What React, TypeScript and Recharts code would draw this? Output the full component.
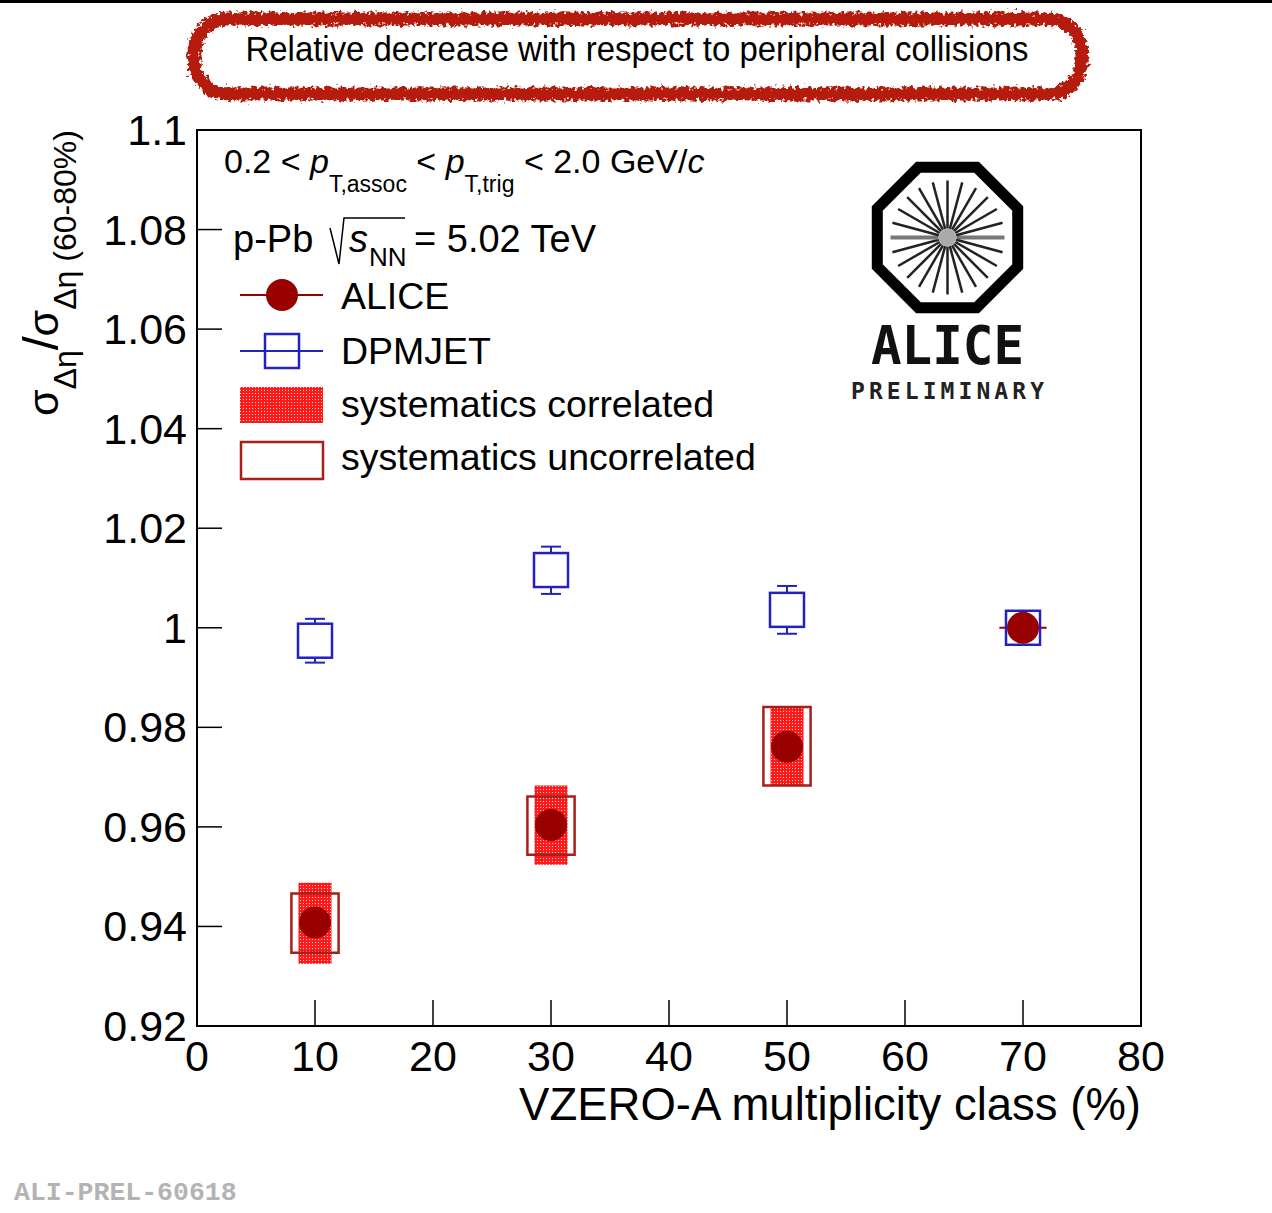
import React from "react";
import {
  ComposedChart,
  Scatter,
  XAxis,
  YAxis,
  ErrorBar,
  ReferenceArea,
} from "recharts";

document.body.style.margin = "0";

const FONT = "'Liberation Sans', Arial, Helvetica, sans-serif";
const DARK_RED = "#990000";
const BLUE = "#2222c4";
const BOX_RED = "#a81f1a";
const HATCH_RED = "#ff1a1a";

// ─── Data (VZERO-A multiplicity class centres, %) ───
const classCentres = [10, 30, 50, 70];
const aliceRatio = [0.9408, 0.9604, 0.9761, 1.0];
// only the reference class carries a drawn class-width bar
const aliceClassHalfWidth = [0, 0, 0, 2];

const sysCentres = [10, 30, 50];
const sysCorrLow = [0.9325, 0.9524, 0.9683];
const sysCorrHigh = [0.9488, 0.9683, 0.9841];
const sysCorrHalfWidth = [1.4, 1.4, 1.4];
const sysUncorrLow = [0.9347, 0.9544, 0.9683];
const sysUncorrHigh = [0.9466, 0.9661, 0.9841];
const sysUncorrHalfWidth = [2, 2, 2];

const dpmjetRatio = [0.9974, 1.0116, 1.0036, 1.0];
const dpmjetErrLow = [0.0044, 0.0048, 0.0048, 0];
const dpmjetErrHigh = [0.0044, 0.0047, 0.0048, 0];

const xTicks = [0, 10, 20, 30, 40, 50, 60, 70, 80];
const yTicks = [0.92, 0.94, 0.96, 0.98, 1.0, 1.02, 1.04, 1.06, 1.08, 1.1];

const aliceData = classCentres.map((x, i) => ({
  x,
  y: aliceRatio[i],
  xErr: aliceClassHalfWidth[i],
}));

const dpmjetData = classCentres.map((x, i) => ({
  x,
  y: dpmjetRatio[i],
  err: [dpmjetErrLow[i], dpmjetErrHigh[i]],
}));

const fmtY = (v: number) => String(parseFloat(v.toFixed(2)));

// ─── Ticks drawn ROOT-style (pointing into the frame) ───
function XTick(props: any) {
  const { x, y, payload } = props;
  return (
    <g>
      <line x1={x} x2={x} y1={y} y2={y - 26} stroke="#000" strokeWidth={1.5} />
      <text x={x} y={y + 45} textAnchor="middle" fontSize={43} fill="#000" fontFamily={FONT}>
        {payload.value}
      </text>
    </g>
  );
}

function YTick(props: any) {
  const { x, y, payload } = props;
  return (
    <g>
      <line x1={x} x2={x + 25} y1={y} y2={y} stroke="#000" strokeWidth={1.5} />
      <text x={x - 10} y={y + 15} textAnchor="end" fontSize={43} fill="#000" fontFamily={FONT}>
        {fmtY(payload.value)}
      </text>
    </g>
  );
}

function CircleMarker(props: any) {
  return <circle cx={props.cx} cy={props.cy} r={16} fill={DARK_RED} />;
}

function SquareMarker(props: any) {
  return (
    <rect
      x={props.cx - 17}
      y={props.cy - 17}
      width={34}
      height={34}
      fill="#fff"
      stroke={BLUE}
      strokeWidth={2.5}
    />
  );
}

function HatchPattern({ id }: { id: string }) {
  return (
    <pattern id={id} width="3" height="3" patternUnits="userSpaceOnUse">
      <rect width="3" height="3" fill={HATCH_RED} />
      <rect x="0" y="0" width="1" height="1" fill="#ffd0d0" />
    </pattern>
  );
}

// ─── ALICE logo ───
function AliceLogo() {
  const cx = 947.5;
  const cy = 237.5;
  const rv = 76;
  const octagon = Array.from({ length: 8 }, (_, k) => {
    const a = ((22.5 + 45 * k) * Math.PI) / 180;
    return `${cx + rv * Math.cos(a)},${cy + rv * Math.sin(a)}`;
  }).join(" ");
  const spokes = Array.from({ length: 24 }, (_, k) => (k * Math.PI) / 12);
  return (
    <g>
      <polygon points={octagon} fill="#fff" stroke="#000" strokeWidth={11} strokeLinejoin="miter" />
      {spokes.map((a, k) => (
        <line
          key={k}
          x1={cx + 9 * Math.cos(a)}
          y1={cy + 9 * Math.sin(a)}
          x2={cx + 57 * Math.cos(a)}
          y2={cy + 57 * Math.sin(a)}
          stroke={k % 12 === 0 ? "#777" : "#222"}
          strokeWidth={k % 12 === 0 ? 4 : 2.5}
        />
      ))}
      <circle cx={cx} cy={cy} r={9} fill="#aaa" />
      <text
        x={cx}
        y={364}
        textAnchor="middle"
        fontSize={54}
        fontWeight="bold"
        fontFamily="'DejaVu Sans Mono', monospace"
        textLength={153}
        lengthAdjust="spacingAndGlyphs"
        fill="#111"
      >
        ALICE
      </text>
      <text
        x={cx}
        y={399}
        textAnchor="middle"
        fontSize={23}
        fontWeight="bold"
        fontFamily="'DejaVu Sans Mono', monospace"
        textLength={193}
        lengthAdjust="spacing"
        fill="#222"
      >
        PRELIMINARY
      </text>
    </g>
  );
}

// ─── Overlay: title box, legend, captions ───
function Overlay() {
  return (
    <svg
      width={1272}
      height={1213}
      style={{ position: "absolute", left: 0, top: 0, pointerEvents: "none" }}
      fontFamily={FONT}
    >
      <defs>
        <filter id="rough" x="-5%" y="-40%" width="110%" height="180%">
          <feTurbulence type="fractalNoise" baseFrequency="0.28" numOctaves="2" seed="4" result="n" />
          <feDisplacementMap in="SourceGraphic" in2="n" scale="11" xChannelSelector="R" yChannelSelector="G" />
        </filter>
        <HatchPattern id="legendHatch" />
      </defs>

      <rect x={0} y={0} width={1272} height={3} fill="#000" />

      {/* title box */}
      <rect x={194} y={19} width={888} height={75} rx={34} fill="none" stroke="#b51a0a" strokeWidth={13} filter="url(#rough)" />
      <text x={637} y={61} textAnchor="middle" fontSize={35} textLength={783} lengthAdjust="spacingAndGlyphs" fill="#000">
        Relative decrease with respect to peripheral collisions
      </text>

      {/* kinematic range */}
      <text x={224} y={173} fontSize={34} fill="#000">
        0.2 &lt; <tspan fontStyle="italic">p</tspan>
        <tspan fontSize={23} dy={19}>T,assoc</tspan>
        <tspan dy={-19}> &lt; </tspan>
        <tspan fontStyle="italic">p</tspan>
        <tspan fontSize={23} dy={19}>T,trig</tspan>
        <tspan dy={-19}> &lt; 2.0 GeV/</tspan>
        <tspan fontStyle="italic">c</tspan>
      </text>

      {/* collision system */}
      <text x={233} y={252} fontSize={38} fill="#000">p-Pb</text>
      <path d="M 330 228 L 339 264 L 344 218 L 405 218" fill="none" stroke="#000" strokeWidth={1.5} />
      <text x={349} y={252} fontSize={38} fontStyle="italic" fill="#000">s</text>
      <text x={369} y={266} fontSize={26} fill="#000">NN</text>
      <text x={414} y={252} fontSize={38} fill="#000">= 5.02 TeV</text>

      {/* legend */}
      <line x1={240} x2={323} y1={295} y2={295} stroke={DARK_RED} strokeWidth={2} />
      <circle cx={282} cy={295} r={16} fill={DARK_RED} />
      <text x={341} y={309} fontSize={37.5} fill="#000">ALICE</text>

      <line x1={240} x2={323} y1={351} y2={351} stroke={BLUE} strokeWidth={2} />
      <rect x={265} y={334} width={34} height={34} fill="none" stroke={BLUE} strokeWidth={2.5} />
      <text x={341} y={364} fontSize={37.5} fill="#000">DPMJET</text>

      <rect x={240} y={387} width={83} height={36} fill="url(#legendHatch)" />
      <text x={341} y={417} fontSize={37.5} fill="#000">systematics correlated</text>

      <rect x={241} y={442} width={82} height={37} fill="none" stroke={BOX_RED} strokeWidth={2.5} />
      <text x={341} y={470} fontSize={37.5} fill="#000">systematics uncorrelated</text>

      <AliceLogo />

      {/* axis titles */}
      <text x={1141} y={1120} textAnchor="end" fontSize={45.5} fill="#000">
        VZERO-A multiplicity class (%)
      </text>
      <text transform="translate(58,416) rotate(-90)" fontSize={43} fill="#000">
        σ<tspan fontSize={32} dy={18}>Δη</tspan>
        <tspan fontSize={50} dy={-18}>/</tspan>
        <tspan>σ</tspan>
        <tspan fontSize={32} dy={18}>Δη (60-80%)</tspan>
      </text>

      <text x={14} y={1200} fontSize={26.5} fontWeight="bold" fontFamily="'Liberation Mono', 'Courier New', monospace" fill="#b3b3b3">
        ALI-PREL-60618
      </text>
    </svg>
  );
}

export default function App() {
  return (
    <div style={{ position: "relative", width: 1272, height: 1213, background: "#fff", fontFamily: FONT, overflow: "hidden" }}>
      <ComposedChart
        width={1272}
        height={1213}
        margin={{ top: 130, right: 131, bottom: 127, left: 97 }}
      >
        <defs>
          <HatchPattern id="corrHatch" />
        </defs>
        <XAxis
          type="number"
          dataKey="x"
          domain={[0, 80]}
          ticks={xTicks}
          height={60}
          tickSize={0}
          tickMargin={0}
          tickLine={false}
          tick={(p: any) => <XTick {...p} />}
          axisLine={{ stroke: "#000", strokeWidth: 2 }}
          allowDataOverflow
        />
        <YAxis
          type="number"
          dataKey="y"
          domain={[0.92, 1.1]}
          ticks={yTicks}
          width={100}
          tickSize={0}
          tickMargin={0}
          tickLine={false}
          tick={(p: any) => <YTick {...p} />}
          axisLine={{ stroke: "#000", strokeWidth: 2 }}
          allowDataOverflow
        />

        {sysCentres.map((c, i) => (
          <ReferenceArea
            key={`corr-${i}`}
            x1={c - sysCorrHalfWidth[i]}
            x2={c + sysCorrHalfWidth[i]}
            y1={sysCorrLow[i]}
            y2={sysCorrHigh[i]}
            fill="url(#corrHatch)"
            fillOpacity={1}
            stroke="none"
          />
        ))}
        {sysCentres.map((c, i) => (
          <ReferenceArea
            key={`uncorr-${i}`}
            x1={c - sysUncorrHalfWidth[i]}
            x2={c + sysUncorrHalfWidth[i]}
            y1={sysUncorrLow[i]}
            y2={sysUncorrHigh[i]}
            fill="none"
            stroke={BOX_RED}
            strokeWidth={2.5}
          />
        ))}

        {/* frame */}
        <ReferenceArea x1={0} x2={80} y1={0.92} y2={1.1} fill="none" stroke="#000" strokeWidth={2} />

        <Scatter data={dpmjetData} shape={SquareMarker} isAnimationActive={false}>
          <ErrorBar dataKey="err" direction="y" width={10} stroke={BLUE} strokeWidth={2} isAnimationActive={false} />
        </Scatter>
        <Scatter data={aliceData} shape={CircleMarker} isAnimationActive={false}>
          <ErrorBar dataKey="xErr" direction="x" width={0} stroke={DARK_RED} strokeWidth={2} isAnimationActive={false} />
        </Scatter>
      </ComposedChart>
      <Overlay />
    </div>
  );
}
